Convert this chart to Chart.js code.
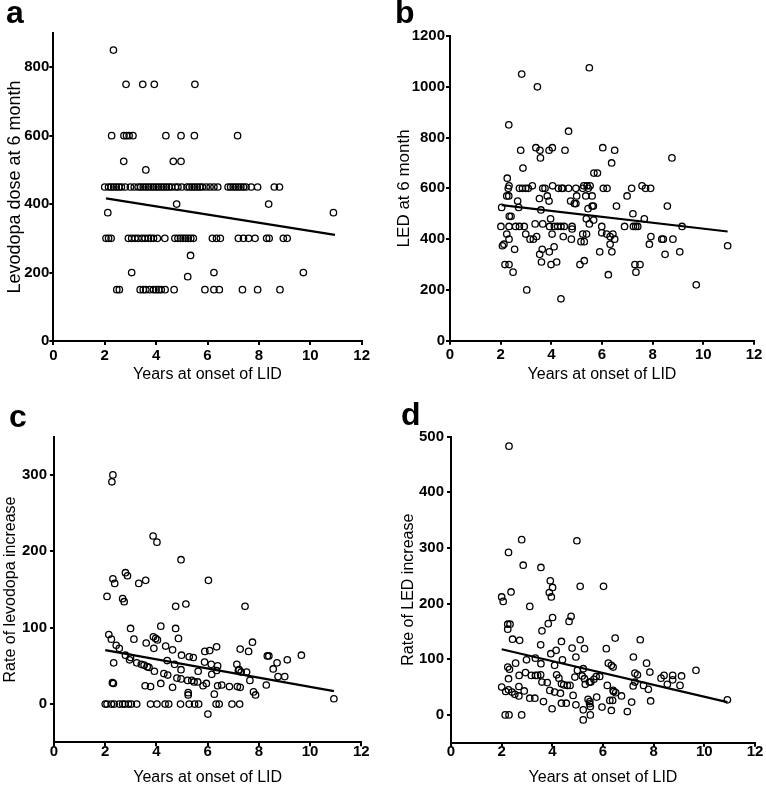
<!DOCTYPE html>
<html>
<head>
<meta charset="utf-8">
<script src="https://cdn.jsdelivr.net/npm/chart.js@4.4.1/dist/chart.umd.min.js"></script>
<style>
  body { margin: 0; background: #fff; }
  #wrap { position: relative; width: 766px; height: 786px; overflow: hidden; background: #fff; }
  canvas { position: absolute; }
  .tag { position: absolute; font: bold 32px "Liberation Sans", Arial, sans-serif; line-height: 32px; color: #000; }
</style>
</head>
<body>
<div id="wrap">
  <canvas id="chartA" width="383" height="393" style="left:0;top:0"></canvas>
  <canvas id="chartB" width="383" height="393" style="left:383px;top:0"></canvas>
  <canvas id="chartC" width="383" height="393" style="left:0;top:393px"></canvas>
  <canvas id="chartD" width="383" height="393" style="left:383px;top:393px"></canvas>
  <div class="tag" style="left:6px;top:-4px">a</div>
  <div class="tag" style="left:395px;top:-4px">b</div>
  <div class="tag" style="left:9px;top:400px">c</div>
  <div class="tag" style="left:401px;top:398px">d</div>
</div>
<script>
// shared x axis
const xTicks = [0, 2, 4, 6, 8, 10, 12];
const xTitle = 'Years at onset of LID';

// a: levodopa dose at 6 month (one line per dose level, same layout in both arrays)
const aTicks = [0, 200, 400, 600, 800];
const aYears = [
  2.34,
  2.83, 3.48, 3.93, 5.51,
  2.27, 2.75, 2.85, 2.95, 3.1, 4.38, 4.97, 5.49, 7.17,
  2.74, 4.67, 4.97,
  3.6,
  2.0, 2.15, 2.25, 2.35, 2.45, 2.55, 2.65, 2.8, 3.0, 3.15,
  3.3, 3.4, 3.5, 3.6, 3.7, 3.8, 3.9, 4.0, 4.1, 4.2,
  4.3, 4.4, 4.5, 4.6, 4.75, 4.85, 5.0, 5.2, 5.3, 5.4,
  5.5, 5.6, 5.7, 5.8, 5.95, 6.1, 6.25, 6.4, 6.8, 6.9,
  7.0, 7.1, 7.2, 7.3, 7.4, 7.5, 7.7, 7.95, 8.6, 8.8,
  4.8, 8.38,
  2.12, 10.9,
  2.05, 2.15, 2.25, 2.92, 3.05, 3.18, 3.3, 3.45, 3.57, 3.7,
  3.8, 3.9, 4.05, 4.34, 4.73, 4.85, 4.95, 5.05, 5.15, 5.25,
  5.35, 5.45, 6.19, 6.35, 6.5, 7.2, 7.4, 7.6, 7.85, 8.3,
  8.4, 8.95, 9.1,
  5.34,
  3.05, 6.25, 9.73,
  5.23,
  2.47, 2.57, 3.38, 3.5, 3.6, 3.75, 3.9, 4.0, 4.1, 4.2,
  4.35, 4.7, 5.9, 6.25, 6.46, 7.36, 7.95, 8.82
];
const aDose = [
  850,
  750, 750, 750, 750,
  600, 600, 600, 600, 600, 600, 600, 600, 600,
  525, 525, 525,
  500,
  450, 450, 450, 450, 450, 450, 450, 450, 450, 450,
  450, 450, 450, 450, 450, 450, 450, 450, 450, 450,
  450, 450, 450, 450, 450, 450, 450, 450, 450, 450,
  450, 450, 450, 450, 450, 450, 450, 450, 450, 450,
  450, 450, 450, 450, 450, 450, 450, 450, 450, 450,
  400, 400,
  375, 375,
  300, 300, 300, 300, 300, 300, 300, 300, 300, 300,
  300, 300, 300, 300, 300, 300, 300, 300, 300, 300,
  300, 300, 300, 300, 300, 300, 300, 300, 300, 300,
  300, 300, 300,
  250,
  200, 200, 200,
  188,
  150, 150, 150, 150, 150, 150, 150, 150, 150, 150,
  150, 150, 150, 150, 150, 150, 150, 150
];
const aFitX = [2.05, 10.96];
const aFitY = [417, 310];

// b: LED at 6 month
const bTicks = [0, 200, 400, 600, 800, 1000, 1200];
const bYears = [
  2.83, 5.5, 3.45, 2.32, 4.68, 3.39, 3.55, 4.04, 3.91, 2.79, 4.54, 6.03, 6.5, 3.57, 6.38, 8.76, 2.88, 5.68, 5.82, 2.26,
  2.33, 2.3, 2.24, 2.32, 2.74, 2.86, 2.99, 3.09, 3.25, 3.66, 3.75, 3.84, 4.05, 4.28, 4.41, 4.46, 4.68, 4.97, 5.28, 5.41,
  5.53, 5.24, 5.46, 5.36, 5.0, 6.05, 6.2, 6.99, 7.17, 7.58, 7.72, 7.92, 2.67, 3.53, 3.91, 4.76, 4.91, 4.97, 5.61, 5.61,
  5.66, 5.45, 6.57, 8.58, 2.04, 2.71, 3.59, 7.22, 5.38, 3.97, 5.67, 5.5, 7.67, 2.01, 2.33, 2.59, 2.74, 2.93, 2.34, 2.41,
  3.36, 3.66, 3.93, 4.12, 4.25, 4.38, 4.51, 4.82, 4.82, 5.99, 6.89, 7.24, 7.33, 7.41, 9.16, 2.24, 2.33, 2.99, 3.29, 3.16,
  3.42, 4.03, 4.47, 4.79, 5.17, 5.3, 5.24, 5.39, 5.99, 6.18, 6.32, 6.43, 6.5, 6.32, 6.39, 5.91, 7.87, 7.93, 8.36, 8.42,
  8.8, 8.49, 9.07, 10.96, 9.72, 2.07, 2.13, 2.55, 3.64, 3.54, 3.92, 4.11, 3.61, 3.99, 4.21, 5.13, 5.3, 2.17, 2.33, 2.49,
  3.03, 4.38, 6.25, 7.3, 7.5, 7.34
];
const bLed = [
  1050, 1075, 1000, 850, 825, 760, 750, 760, 750, 750, 750, 760, 750, 720, 700, 720, 680, 660, 660, 640,
  610, 600, 570, 570, 600, 600, 600, 600, 610, 600, 600, 570, 610, 600, 600, 600, 600, 600, 610, 610,
  610, 600, 600, 570, 570, 600, 600, 570, 600, 610, 600, 600, 550, 560, 550, 550, 540, 540, 570, 530,
  530, 520, 530, 530, 525, 525, 515, 500, 480, 480, 475, 460, 480, 450, 450, 450, 450, 450, 490, 490,
  460, 460, 450, 450, 450, 450, 450, 450, 440, 450, 450, 450, 450, 450, 450, 420, 400, 420, 400, 400,
  410, 420, 410, 400, 390, 390, 420, 420, 425, 420, 410, 420, 400, 380, 350, 350, 380, 410, 400, 400,
  400, 340, 350, 374, 220, 374, 380, 360, 360, 340, 350, 370, 310, 300, 310, 300, 315, 300, 300, 270,
  200, 165, 260, 300, 300, 270
];
const bFitX = [2.04, 10.96];
const bFitY = [534, 430];

// c: rate of levodopa increase
const cTicks = [0, 100, 200, 300];
const cYears = [
  2.30, 2.26, 3.87, 4.02, 4.96, 2.30, 2.37, 2.79, 2.87, 3.31, 3.58, 6.03, 2.07, 2.68, 2.74, 4.75, 5.15, 7.46, 2.99, 2.14,
  2.24, 4.17, 4.75, 3.88, 3.97, 4.04, 4.86, 3.12, 2.43, 2.55, 3.6, 3.9, 4.36, 4.63, 5.89, 6.08, 6.35, 7.27, 7.6, 7.75,
  2.33, 2.79, 2.99, 2.95, 3.23, 3.41, 3.52, 3.64, 4.42, 4.98, 5.28, 5.44, 4.71, 4.96, 5.88, 6.14, 6.39, 7.14, 7.23, 7.52,
  8.33, 8.39, 8.56, 8.71, 9.11, 9.66, 8.75, 9.01, 8.29, 7.79, 7.87, 7.65, 10.93, 3.71, 3.92, 4.29, 4.44, 5.63, 6.16, 6.35,
  7.2, 7.31, 3.56, 3.77, 4.17, 4.63, 4.8, 4.96, 5.22, 5.38, 5.47, 5.61, 5.82, 5.95, 6.26, 6.39, 6.55, 6.85, 7.16, 7.27,
  5.24, 5.24, 2.28, 2.32, 6.01,
  2.0, 2.07, 2.24, 2.35, 2.55, 2.68, 2.77, 2.91, 3.02, 3.23, 3.77, 4.02, 4.34, 4.48, 4.94, 5.28, 5.49, 5.65, 6.33, 6.45,
  6.95, 7.25
];
const cRate = [
  300, 291, 220, 212, 189, 164, 158, 172, 168, 158, 162, 162, 141, 138, 134, 128, 131, 128, 99, 91,
  85, 102, 99, 88, 86, 84, 86, 85, 77, 73, 80, 73, 76, 71, 69, 70, 75, 72, 69, 81,
  54, 64, 61, 58, 54, 52, 51, 49, 57, 64, 62, 61, 52, 45, 55, 52, 50, 52, 45, 42,
  63, 63, 46, 54, 58, 64, 36, 36, 25, 16, 12, 31, 7, 48, 43, 40, 38, 43, 39, 44,
  44, 42, 24, 23, 27, 22, 34, 33, 31, 31, 29, 29, 24, 27, 13, 24, 25, 23, 23, 22,
  15, 12, 28, 27, -13,
  0, 0, 0, 0, 0, 0, 0, 0, 0, 0, 0, 0, 0, 0, 0, 0, 0, 0, 0, 0,
  0, 0
];
const cFitX = [2.0, 10.93];
const cFitY = [70.7, 17];

// d: rate of LED increase
const dTicks = [0, 100, 200, 300, 400, 500];
const dYears = [
  2.29, 2.27, 2.79, 4.97, 2.85, 2.37, 3.55, 3.92, 4.01, 3.88, 3.96, 5.1, 6.02, 2.0, 2.06, 3.11, 4.01, 3.84, 4.74, 4.66,
  2.24, 2.33, 2.24, 3.59, 2.43, 2.71, 3.54, 4.36, 5.1, 6.48, 7.47, 6.13, 4.78, 5.27, 7.2, 4.93, 7.72, 3.94, 4.15, 4.4,
  3.33, 2.98, 4.09, 3.55, 3.17, 3.33, 3.42, 3.54, 2.24, 2.31, 2.55, 2.69, 2.94, 2.27, 3.59, 3.8, 4.17, 4.26, 4.36, 4.32,
  4.45, 4.59, 4.7, 4.89, 4.99, 5.22, 5.18, 5.27, 5.3, 5.46, 5.52, 5.64, 5.73, 5.87, 6.21, 6.33, 6.4, 6.17, 6.4, 6.5,
  6.42, 6.73, 7.19, 7.26, 7.36, 7.26, 7.6, 7.85, 7.79, 7.88, 8.29, 8.41, 8.54, 8.75, 8.75, 9.1, 9.04, 9.67, 10.91, 2.68,
  2.68, 2.89, 3.11, 3.31, 2.0, 2.16, 2.27, 2.41, 2.52, 3.65, 3.9, 4.09, 3.99, 4.36, 4.55, 4.82, 4.93, 5.22, 5.41, 5.48,
  5.47, 5.5, 5.5, 5.22, 5.75, 5.96, 6.27, 6.38, 6.33, 6.96, 7.13, 2.14, 2.29, 2.79
];
const dRate = [
  483, 292, 315, 313, 269, 221, 265, 241, 229, 220, 212, 231, 231, 212, 204, 195, 175, 164, 177, 168,
  163, 163, 154, 151, 136, 134, 126, 132, 135, 138, 135, 119, 120, 119, 104, 104, 93, 110, 116, 99,
  102, 99, 89, 92, 71, 71, 71, 72, 86, 82, 93, 71, 76, 65, 59, 58, 72, 66, 56, 39,
  54, 53, 53, 68, 80, 83, 70, 65, 55, 59, 59, 64, 69, 69, 93, 89, 86, 53, 44, 40,
  42, 34, 52, 59, 72, 75, 53, 77, 46, 25, 66, 71, 55, 71, 63, 70, 53, 80, 27, 51,
  34, 43, 30, 30, 50, 42, 45, 41, 37, 24, 44, 41, 11, 21, 21, 35, 18, 9, 28, 24,
  20, 15, 0, -9, 32, 14, 26, 26, 8, 6, 23, 0, 0, 0
];
const dFitX = [2.0, 10.91];
const dFitY = [118, 23];

const FONT = '"Liberation Sans", Arial, sans-serif';

function buildPanel(canvasId, xs, ys, fitX, fitY, yMin, yMax, yTicks, yTitle, box) {
  const points = xs.map((x, i) => ({ x: x, y: ys[i] }));
  const fit = fitX.map((x, i) => ({ x: x, y: fitY[i] }));
  return new Chart(document.getElementById(canvasId), {
    type: 'scatter',
    data: {
      datasets: [
        {
          data: points,
          pointStyle: 'circle',
          pointRadius: 3.2,
          pointHoverRadius: 3.2,
          pointBorderWidth: 1.3,
          borderColor: '#000',
          backgroundColor: 'rgba(0,0,0,0)'
        },
        {
          type: 'line',
          data: fit,
          borderColor: '#000',
          borderWidth: 2.2,
          pointRadius: 0,
          fill: false
        }
      ]
    },
    options: {
      responsive: false,
      animation: false,
      events: [],
      layout: { padding: { left: 0, right: box.pr, top: box.pt, bottom: 0 } },
      plugins: { legend: { display: false }, tooltip: { enabled: false } },
      scales: {
        x: {
          type: 'linear', min: 0, max: 12,
          afterBuildTicks: s => { s.ticks = xTicks.map(v => ({ value: v })); },
          afterFit: s => { s.height = box.xh; },
          grid: { display: true, drawOnChartArea: false, drawTicks: true, tickLength: 4, color: '#000', lineWidth: 2 },
          border: { display: true, color: '#000', width: 2 },
          ticks: { color: '#000', padding: box.xpad, maxRotation: 0, autoSkip: false,
                   callback: v => String(v),
                   font: { family: FONT, size: 15, weight: 'bold', lineHeight: 1 } },
          title: { display: true, text: xTitle, color: '#000',
                   font: { family: FONT, size: 16, lineHeight: 1 }, padding: { top: 0, bottom: box.xtb } }
        },
        y: {
          type: 'linear', min: yMin, max: yMax,
          afterBuildTicks: s => { s.ticks = yTicks.map(v => ({ value: v })); },
          afterFit: s => { s.width = box.yw; },
          grid: { display: true, drawOnChartArea: false, drawTicks: true, tickLength: 4, color: '#000', lineWidth: 2 },
          border: { display: true, color: '#000', width: 2 },
          ticks: { color: '#000', padding: box.ypad, autoSkip: false,
                   callback: v => String(v),
                   font: { family: FONT, size: 15, weight: 'bold', lineHeight: 1 } },
          title: { display: true, text: yTitle, color: '#000',
                   font: { family: FONT, size: box.yts }, padding: { top: box.ytp, bottom: 0 } }
        }
      }
    }
  });
}

buildPanel('chartA', aYears, aDose, aFitX, aFitY, 0, 900, aTicks, 'Levodopa dose at 6 month',
  { pr: 21.3, pt: 33, xh: 52, yw: 53.3, xpad: 3, xtb: 10, ypad: 0, ytp: 4.5, yts: 18 });
buildPanel('chartB', bYears, bLed, bFitX, bFitY, 0, 1200, bTicks, 'LED at 6 month',
  { pr: 12, pt: 36, xh: 52.3, yw: 67, xpad: 3, xtb: 10, ypad: 1, ytp: 10.8, yts: 17 });
buildPanel('chartC', cYears, cRate, cFitX, cFitY, -50, 350, cTicks, 'Rate of levodopa increase',
  { pr: 21.7, pt: 43.7, xh: 43.7, yw: 54, xpad: -2, xtb: 0, ypad: 3, ytp: 1, yts: 16 });
buildPanel('chartD', dYears, dRate, dFitX, dFitY, -50, 500, dTicks, 'Rate of LED increase',
  { pr: 11, pt: 43.7, xh: 43.3, yw: 68, xpad: -2, xtb: 0, ypad: 3, ytp: 16, yts: 16 });
</script>
</body>
</html>
